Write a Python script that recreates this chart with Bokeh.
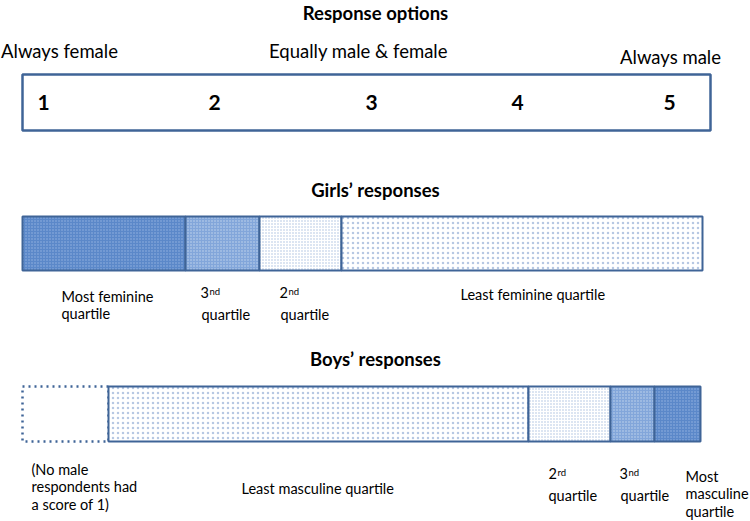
from bokeh.plotting import figure
from bokeh.models import Range1d
from bokeh.core.properties import value
from bokeh.embed import file_html
from bokeh.resources import INLINE

FONT = "Lato"
BLUE = "#3F6497"

# ---- data ----
titles = ["Response options", "Girls\u2019 responses", "Boys\u2019 responses"]
title_y = [12, 189, 358]

scale_labels = ["Always female", "Equally male & female", "Always male"]
scale_label_x = [59, 358, 670]
scale_label_y = [50, 50, 56]

scale_numbers = ["1", "2", "3", "4", "5"]
scale_number_x = [43, 214, 371, 517, 669]

girls_edges = [22, 185, 259, 341, 702]
girls_levels = ["most", "third", "second", "least"]
boys_edges = [22, 108, 528, 610, 654, 700]
boys_levels = ["none", "least", "second", "third", "most"]

girls_labels = ["Most feminine\nquartile", "3", "2", "Least feminine quartile"]
boys_labels = ["(No male\nrespondents had\na score of 1)", "Least masculine quartile", "2", "3", "Most\nmasculine\nquartile"]

styles = {
    "most":   dict(fill_color="#5B88C9", hatch_pattern="dot", hatch_color="#BFD3F0", hatch_scale=3, hatch_alpha=0.6),
    "third":  dict(fill_color="#82A6DA", hatch_pattern="dot", hatch_color="#E3ECF9", hatch_scale=3, hatch_alpha=0.7),
    "second": dict(fill_color="#FFFFFF", hatch_pattern="dot", hatch_color="#9FB6DA", hatch_scale=3, hatch_alpha=0.9),
    "least":  dict(fill_color="#FFFFFF", hatch_pattern="dot", hatch_color="#AFC2E0", hatch_scale=5, hatch_alpha=0.9),
}

W, H = 750, 521
p = figure(width=W, height=H, output_backend="svg", toolbar_location=None,
           x_range=Range1d(0, W), y_range=Range1d(H, 0),
           min_border=0, outline_line_color=None)
p.axis.visible = False
p.grid.visible = False

# Response options box
p.quad(left=[22], right=[710], top=[74], bottom=[130], fill_color="white",
       line_color=BLUE, line_width=2.5)

def draw_bar(edges, levels, top, bottom):
    for i, lv in enumerate(levels):
        l, r = edges[i], edges[i + 1]
        if lv == "none":
            p.quad(left=[l], right=[r], top=[top], bottom=[bottom], fill_color=None,
                   line_color=BLUE, line_width=2.5, line_dash="dotted")
        else:
            p.quad(left=[l], right=[r], top=[top], bottom=[bottom],
                   line_color=BLUE, line_width=2, **styles[lv])

draw_bar(girls_edges, girls_levels, 216, 270)
draw_bar(boys_edges, boys_levels, 386, 441)

LBL = "14.5px"

# titles
p.text(x=[375] * 3, y=title_y, text=titles, text_font=value(FONT), text_font_style="bold",
       text_font_size="18.5px", text_align="center", text_baseline="middle", text_color="black")

p.text(x=scale_label_x, y=scale_label_y, text=scale_labels, text_font=value(FONT),
       text_font_size="18.5px", text_align="center", text_baseline="middle", text_color="black")

p.text(x=scale_number_x, y=[102] * 5, text=scale_numbers, text_font=value(FONT), text_font_style="bold",
       text_font_size="21px", text_align="center", text_baseline="middle", text_color="black")

# girls labels
gx = [61, 200, 279, 460]
gy = [287, 286, 286, 285]
p.text(x=gx, y=gy, text=girls_labels, text_font=value(FONT), text_font_size=LBL,
       text_align="left", text_baseline="top", text_line_height=1.05, text_color="black")
p.text(x=[201, 280], y=[305, 305], text=["quartile", "quartile"], text_font=value(FONT),
       text_font_size=LBL, text_align="left", text_baseline="top", text_color="black")
p.text(x=[209, 288], y=[285, 285], text=["nd", "nd"], text_font=value(FONT), text_font_size="9.5px",
       text_align="left", text_baseline="top", text_color="black")

# boys labels
bx = [31, 241, 548, 619, 685]
by = [460, 479, 467, 467, 467]
p.text(x=bx, y=by, text=boys_labels, text_font=value(FONT), text_font_size=LBL,
       text_align="left", text_baseline="top", text_line_height=1.03, text_color="black")
p.text(x=[548, 620], y=[486, 486], text=["quartile", "quartile"], text_font=value(FONT),
       text_font_size=LBL, text_align="left", text_baseline="top", text_color="black")
p.text(x=[557, 628], y=[466, 466], text=["rd", "nd"], text_font=value(FONT), text_font_size="9.5px",
       text_align="left", text_baseline="top", text_color="black")

open("out.html", "w").write(file_html(p, INLINE))
